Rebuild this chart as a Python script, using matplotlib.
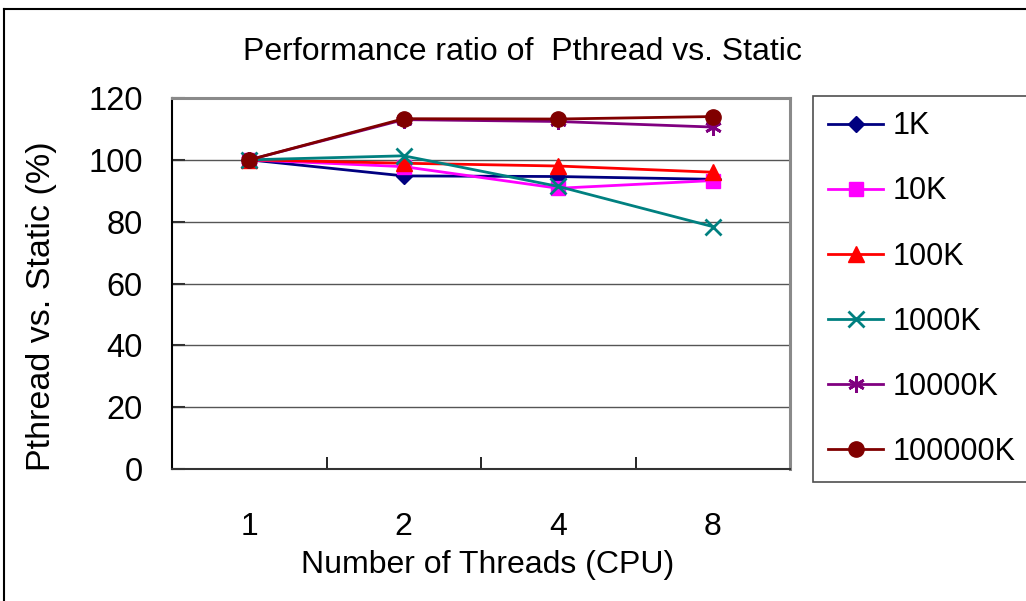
import matplotlib
matplotlib.use("Agg")
import matplotlib.pyplot as plt
from matplotlib.lines import Line2D

plt.rcParams['font.family'] = ['Liberation Sans', 'DejaVu Sans']

threads = ["1", "2", "4", "8"]
series_names = ["1K", "10K", "100K", "1000K", "10000K", "100000K"]
v_1k = [100, 94.8, 94.6, 93.7]
v_10k = [100, 97.8, 90.8, 93.3]
v_100k = [100, 98.9, 98.0, 96.0]
v_1000k = [100, 101.3, 91.4, 78.4]
v_10000k = [100, 113.0, 112.4, 110.6]
v_100000k = [100, 113.3, 113.2, 114.0]
values = [v_1k, v_10k, v_100k, v_1000k, v_10000k, v_100000k]

colors = ["#000080", "#FF00FF", "#FF0000", "#008080", "#800080", "#800000"]
markers = ["D", "s", "^", "x", (6, 2, 0), "o"]
msizes = [8, 10, 11, 11, 12, 11]

W, H = 1026, 601
fig = plt.figure(figsize=(W / 100, H / 100), dpi=100)
L, R, T, B = 172, 790, 98, 469
ax = fig.add_axes([L / W, 1 - B / H, (R - L) / W, (B - T) / H])

x = list(range(len(threads)))
handles = []
for vals, name, c, m, ms in zip(values, series_names, colors, markers, msizes):
    mew = 2 if m in ("x", (6, 2, 0)) else 1
    h, = ax.plot(x, vals, color=c, marker=m, markersize=ms, linewidth=2,
                 markeredgewidth=mew, label=name, clip_on=False)
    handles.append(h)

ax.set_xlim(-0.5, 3.5)
ax.set_ylim(0, 120)
ax.set_yticks(range(0, 121, 20))
ax.yaxis.grid(True, color="#555555", linewidth=1.0)
ax.set_axisbelow(True)
ax.set_xticks([0.5, 1.5, 2.5], minor=False)
ax.set_xticklabels([])
ax.tick_params(axis="x", direction="in", length=9, width=1.2, color="black")
ax.tick_params(axis="y", direction="in", length=9, width=1.5, color="#333333",
               labelsize=23.5, pad=21)
for sp in ("top", "right"):
    ax.spines[sp].set_color("#8a8a8a")
    ax.spines[sp].set_linewidth(2.2)
ax.spines["left"].set_linewidth(1.5)
ax.spines["bottom"].set_linewidth(1.5)
ax.spines["bottom"].set_color("#333333")

# category labels
for xi, lab in zip(x, threads):
    ax.text(xi, -0.155, lab, transform=ax.get_xaxis_transform(), ha="center",
            va="center", fontsize=23)

fig.text(522 / W, 1 - 52 / H, "Performance ratio of  Pthread vs. Static",
         ha="center", va="center", fontsize=23)
fig.text(488 / W, 1 - 565 / H, "Number of Threads (CPU)", ha="center",
         va="center", fontsize=23)
fig.text(42 / W, 1 - 306 / H, "Pthread vs. Static (%)", ha="center",
         va="center", fontsize=24.5, rotation=90)

leg = fig.legend(handles=handles, loc="upper left",
                 bbox_to_anchor=(813 / W, 1 - 96 / H), fontsize=22,
                 frameon=True, fancybox=False, edgecolor="#222222",
                 labelspacing=1.15, handlelength=1.8, handletextpad=0.3,
                 borderpad=0.5, borderaxespad=0)
leg.get_frame().set_linewidth(1.2)

# outer chart border
fig.add_artist(Line2D([4 / W, 4 / W], [0, 1 - 9 / H], transform=fig.transFigure,
                      color="black", linewidth=1.5))
fig.add_artist(Line2D([4 / W, 1], [1 - 9 / H, 1 - 9 / H], transform=fig.transFigure,
                      color="black", linewidth=1.5))

fig.savefig("out.png", dpi=100)
